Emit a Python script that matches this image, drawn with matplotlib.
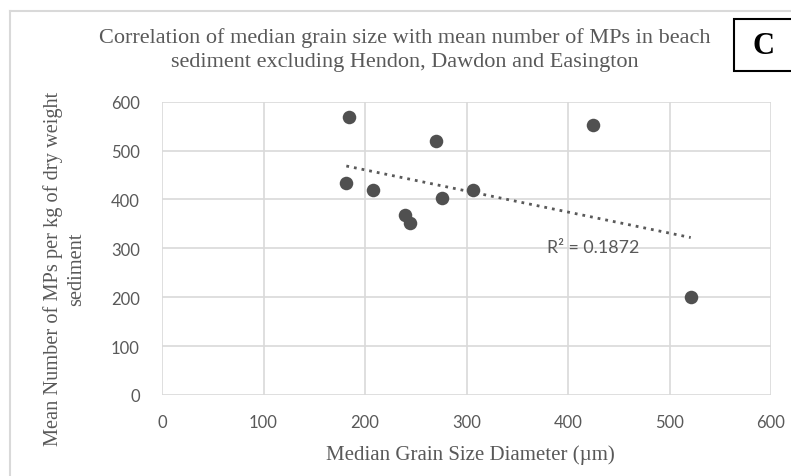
import numpy as np
import matplotlib
matplotlib.use("Agg")
import matplotlib.pyplot as plt
from matplotlib.patches import Rectangle
from matplotlib.lines import Line2D

# median grain size (um) vs mean MPs per kg dry weight sediment
grain_size = [184.5, 181.6, 207.6, 239.7, 244.0, 270.3, 276.2, 306.7, 424.3, 520.9]
mean_mps = [569, 434, 419, 369, 352, 519, 402, 419, 552, 201]

x_ticks = [0, 100, 200, 300, 400, 500, 600]
y_ticks = [0, 100, 200, 300, 400, 500, 600]

title = ("Correlation of median grain size with mean number of MPs in beach\n"
         "sediment excluding Hendon, Dawdon and Easington")
x_label = "Median Grain Size Diameter (\u00b5m)"
y_label = "Mean Number of MPs per kg of dry weight\nsediment"
r2_label = "R\u00b2 = 0.1872"
panel = "C"

GREY = "#595959"
GRID = "#d9d9d9"
SANS = ["Lato", "DejaVu Sans"]
SERIF = ["Liberation Serif", "DejaVu Serif"]

W, H = 791, 477
fig = plt.figure(figsize=(W / 100, H / 100), dpi=100)

# chart area border (light grey, runs off right and bottom)
fig.add_artist(Line2D([10 / W, 10 / W], [0, 1 - 12 / H], transform=fig.transFigure,
                      color=GRID, lw=1.5))
fig.add_artist(Line2D([10 / W, 1], [1 - 12 / H, 1 - 12 / H], transform=fig.transFigure,
                      color=GRID, lw=1.5))

ax = fig.add_axes([162 / W, (H - 396) / H, (771 - 162) / W, (396 - 102.7) / H])

ax.scatter(grain_size, mean_mps, s=95, color="#505050", zorder=3, linewidths=0)

# linear trendline over the data range
slope, icept = np.polyfit(grain_size, mean_mps, 1)
xs = np.array([min(grain_size), max(grain_size)])
ax.plot(xs, slope * xs + icept, color=GREY, lw=2, linestyle=(0, (1, 1.8)), zorder=2)
ax.text(379, 303, r2_label, color=GREY, fontsize=12.8, family=SANS,
        ha="left", va="center", zorder=4)

ax.set_xlim(0, 600)
ax.set_ylim(0, 600)
ax.set_xticks(x_ticks)
ax.set_yticks(y_ticks)
ax.grid(True, color=GRID, lw=1.2)
ax.set_axisbelow(True)
for s in ax.spines.values():
    s.set_visible(False)
ax.tick_params(length=0, colors=GREY, labelsize=12, pad=14)
for lab in ax.get_xticklabels() + ax.get_yticklabels():
    lab.set_family(SANS)
ax.tick_params(axis="y", pad=16)

fig.text(405 / W, 1 - 50 / H, title, ha="center", va="center", color=GREY,
         fontsize=16, family=SERIF, linespacing=1.3)
fig.text(470 / W, 1 - 455 / H, x_label, ha="center", va="center", color=GREY,
         fontsize=15, family=SERIF)
fig.text(65 / W, 1 - 269 / H, y_label, ha="center", va="center", color=GREY,
         fontsize=14.7, family=SERIF, rotation=90, linespacing=1.3)

# panel letter box
fig.add_artist(Rectangle((734 / W, 1 - 71.5 / H), 70 / W, 52 / H, transform=fig.transFigure,
                         facecolor="white", edgecolor="black", lw=1.5))
fig.text(763 / W, 1 - 47 / H, panel, ha="center", va="center", color="black",
         fontsize=22, family=SERIF, fontweight="bold")

fig.savefig("out.png", dpi=100)
